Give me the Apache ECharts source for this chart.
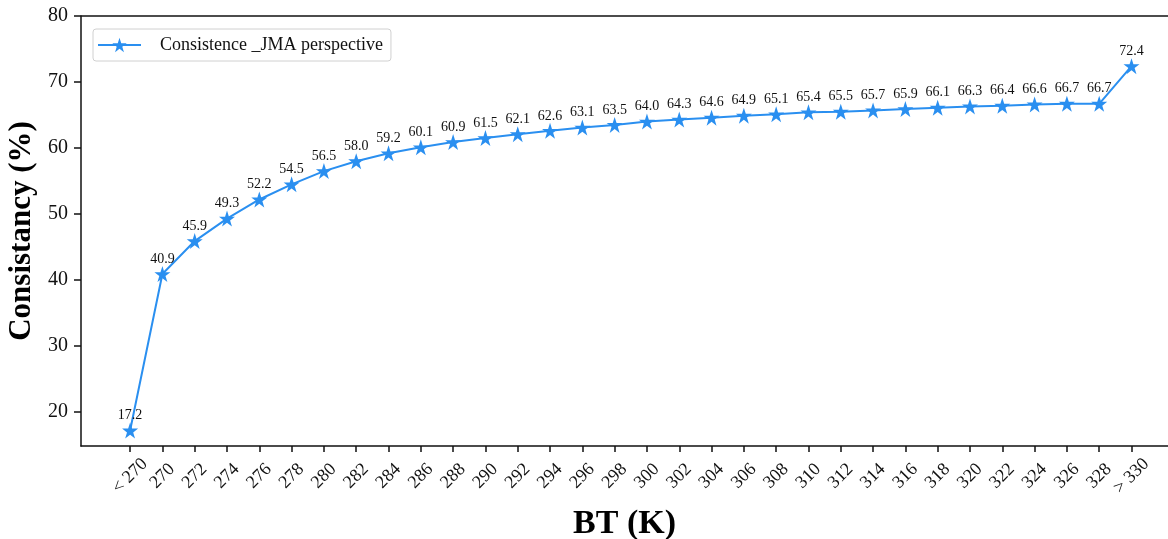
<!DOCTYPE html>
<html>
<head>
<meta charset="utf-8">
<script src="https://cdn.jsdelivr.net/npm/echarts@6/dist/echarts.min.js"></script>
<style>html,body{margin:0;padding:0;background:#fff}#c{width:1168px;height:539px}</style>
</head>
<body>
<div id="c"></div>
<script>
const categories = ['< 270','270','272','274','276','278','280','282','284','286','288','290','292','294','296','298','300','302','304','306','308','310','312','314','316','318','320','322','324','326','328','> 330'];
const consistence = [17.2,40.9,45.9,49.3,52.2,54.5,56.5,58.0,59.2,60.1,60.9,61.5,62.1,62.6,63.1,63.5,64.0,64.3,64.6,64.9,65.1,65.4,65.5,65.7,65.9,66.1,66.3,66.4,66.6,66.7,66.7,72.4];
const yTicks = [20,30,40,50,60,70,80];
const seriesName = 'Consistence _JMA perspective';

const idx = categories.map((c,i)=>i);
const font = 'Liberation Serif, Times New Roman, serif';
const star = 'path://M50,0 L61.8,35.3 L99,35.3 L69,57.3 L80.3,92.7 L50,70.7 L19.7,92.7 L31,57.3 L1,35.3 L38.2,35.3 Z';
const chart = echarts.init(document.getElementById('c'));
chart.setOption({
  animation:false,
  grid:{left:81, right:0, top:16, bottom:93, containLabel:false, outerBoundsMode:'none'},
  legend:{
    left:93, top:29, padding:[7,8,7,4], itemWidth:43, itemHeight:18,
    borderColor:'#d0d0d0', borderWidth:1, borderRadius:3,
    textStyle:{fontFamily:font, fontSize:18, color:'#111', padding:[0,0,0,14]},
    data:[seriesName]
  },
  xAxis:{
    type:'value', min:-1.52, max:32.13,
    name:'BT (K)', nameLocation:'middle', nameGap:61,
    nameTextStyle:{fontFamily:font, fontSize:34, fontWeight:'bold', color:'#000'},
    axisLine:{show:true, onZero:false, lineStyle:{color:'#111', width:1.5}},
    axisTick:{show:true, length:6, customValues:idx, lineStyle:{color:'#111', width:1.5}},
    axisLabel:{customValues:idx, rotate:45, align:'center', verticalAlign:'middle', margin:30,
      fontFamily:font, fontSize:18, color:'#111',
      formatter:v=>categories[Math.round(v)]},
    splitLine:{show:false}
  },
  yAxis:{
    type:'value', min:14.85, max:80,
    name:'Consistancy (%)', nameLocation:'middle', nameGap:40,
    nameTextStyle:{fontFamily:font, fontSize:31, fontWeight:'bold', color:'#000'},
    axisLine:{show:true, onZero:false, lineStyle:{color:'#111', width:1.5}},
    axisTick:{show:true, length:7, customValues:yTicks, lineStyle:{color:'#111', width:1.5}},
    axisLabel:{customValues:yTicks, margin:13, fontFamily:font, fontSize:20, color:'#111'},
    splitLine:{show:false}
  },
  graphic:[{type:'line', shape:{x1:81, y1:16, x2:1168, y2:16}, style:{stroke:'#111', lineWidth:1.5}, silent:true}],
  series:[{
    name:seriesName, type:'line',
    data:consistence.map((v,i)=>[i,v]),
    symbol:star,
    symbolSize:16,
    lineStyle:{color:'#2a8ff0', width:2},
    itemStyle:{color:'#2a8ff0'},
    label:{show:true, position:'top', distance:0, fontFamily:font, fontSize:14, color:'#111',
      formatter:p=>p.value[1].toFixed(1)}
  }]
});
</script>
</body>
</html>
